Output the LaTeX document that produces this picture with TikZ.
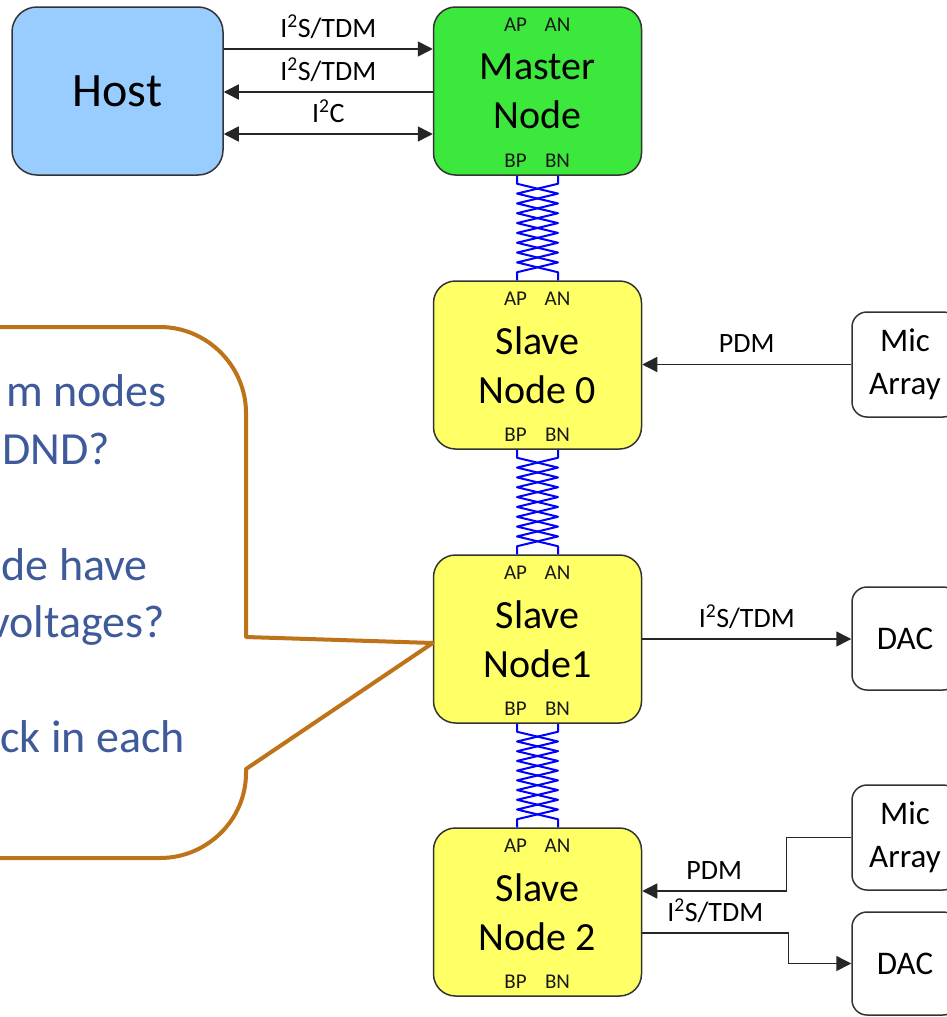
\documentclass[tikz,border=0pt]{standalone}
\usepackage{fontspec}
\setmainfont{Carlito}
\usetikzlibrary{arrows.meta,calc}

\definecolor{hostblue}{HTML}{99CCFF}
\definecolor{mastergreen}{HTML}{3DE83D}
\definecolor{slaveyellow}{HTML}{FFFF66}
\definecolor{edgegray}{HTML}{333333}
\definecolor{calloutbrown}{HTML}{BE7318}
\definecolor{questionblue}{HTML}{3F5A9B}

% "I squared" prefix of the bus names
\newcommand{\Isq}{I\textsuperscript{2}}

% one conductor of a twisted pair between two stacked nodes
% #1 upper node, #2 lower node, #3 starting side (-1 left, 1 right)
\newcommand{\twistwire}[3]{%
  \draw[wire] let \p1=(#1.south), \p2=(#2.north), \n1={(\y1-\y2-16pt)/9} in
    ({\x1+(#3)*20.5pt},\y1) -- ({\x1+(#3)*20.5pt},{\y1-8pt})
    foreach \k in {1,...,9} { -- ({\x1+(#3)*20.5pt*(1-2*mod(\k,2))},{\y1-8pt-\k*\n1}) }
    -- ({\x1-(#3)*20.5pt},\y2);
}
\newcommand{\twistpair}[2]{\twistwire{#1}{#2}{-1}\twistwire{#1}{#2}{1}}

% bus pin names printed inside a transceiver box
\newcommand{\buspins}[1]{%
  \node[pinlbl] (#1-ap) at ($(#1.north)+(-22,19)$) {AP};
  \node[pinlbl] (#1-an) at ($(#1.north)+(20,19)$) {AN};
  \node[pinlbl] (#1-bp) at ($(#1.south)+(-22,-15)$) {BP};
  \node[pinlbl] (#1-bn) at ($(#1.south)+(20,-15)$) {BN};
}

\begin{document}
\begin{tikzpicture}[x=1pt,y=-1pt,
  >={Triangle[length=15pt,width=15pt]},
  box/.style={draw=edgegray, line width=1.5pt, rounded corners=22pt,
    minimum width=208pt, minimum height=168pt, align=center, inner sep=0pt,
    font=\fontsize{40}{49}\selectfont},
  hostbox/.style={box, fill=hostblue, rounded corners=25pt, minimum width=211pt,
    font=\fontsize{48}{56}\selectfont},
  masterbox/.style={box, fill=mastergreen},
  slavebox/.style={box, fill=slaveyellow},
  dev/.style={draw=edgegray, line width=1.5pt, fill=white, rounded corners=15pt,
    minimum width=106pt, align=center, inner sep=0pt,
    font=\fontsize{33}{43}\selectfont},
  pinlbl/.style={inner sep=0pt, text=black!90, font=\fontsize{21}{21}\selectfont},
  sig/.style={anchor=base, yshift=12pt, inner sep=0pt, font=\fontsize{28}{28}\selectfont},
  link/.style={draw=black!85, line width=1.5pt},
  arr/.style={link, ->},
  biarr/.style={link, <->},
  wire/.style={draw=blue, line width=2pt, line join=round},
  callout/.style={draw=calloutbrown, line width=4pt, line join=round},
  question/.style={anchor=base east, inner sep=0pt, text=questionblue,
    font=\fontsize{46}{58}\selectfont}]

\useasboundingbox (0,0) rectangle (947,1017);
\fill[white] (0,0) rectangle (947,1017);
\clip (0,0) rectangle (947,1017);

% host and the chain of transceivers
\node[hostbox]   (host)   at (117.5,91)  {Host};
\node[masterbox] (master) at (537.5,91)  {Master\\Node};
\node[slavebox]  (s0)     at (537.5,365) {Slave\\Node 0};
\node[slavebox]  (s1)     at (537.5,639) {Slave\\Node1};
\node[slavebox]  (s2)     at (537.5,912) {Slave\\Node 2};
\buspins{master}
\buspins{s0}
\buspins{s1}
\buspins{s2}

% peripherals
\node[dev, minimum height=105pt] (mic1) at (905,364.5) {Mic\\Array};
\node[dev, minimum height=103pt] (dac1) at (905,638.5) {DAC};
\node[dev, minimum height=105pt] (mic2) at (905,837.5) {Mic\\Array};
\node[dev, minimum height=103pt] (dac2) at (905,963.5) {DAC};

% twisted-pair bus segments
\twistpair{master}{s0}
\twistpair{s0}{s1}
\twistpair{s1}{s2}

% host interface
\draw[arr] ([yshift=42pt]host.east) -- ([yshift=42pt]master.west)
  node[sig, pos=.5] {\Isq S/TDM};
\draw[arr] ([yshift=-1pt]master.west) -- ([yshift=-1pt]host.east)
  node[sig, pos=.5] {\Isq S/TDM};
\draw[biarr] ([yshift=-43pt]host.east) -- ([yshift=-43pt]master.west)
  node[sig, pos=.5] {\Isq C};

% peripheral links
\draw[arr] (mic1.west) -- (mic1.west -| s0.east) node[sig, pos=.5] {PDM};
\draw[arr] (s1.east) -- (s1.east -| dac1.west) node[sig, pos=.5] {\Isq S/TDM};
\draw[arr] (mic2.west) -- ++(-65,0) |- ([yshift=21pt]s2.east)
  node[sig, pos=.75] {PDM};
\draw[arr] ([yshift=-21pt]s2.east) -- ++(146,0) node[sig, pos=.5] {\Isq S/TDM}
  |- (dac2.west);

% speech bubble pointing at Slave Node1
\coordinate (bubbletip) at ([yshift=-4pt]s1.west);
\draw[callout] (-20,327) -- (160,327) .. controls (207,327) and (246,366) .. (246,413)
  -- (246,637) -- (bubbletip) -- (246,769) -- (246,773)
  .. controls (246,820) and (207,858) .. (160,858) -- (-20,858);
\node[question] (q1) at (167,406) {m nodes};
\node[question] (q2) at (110,464) {DND?};
\node[question] (q3) at (148,580) {de have};
\node[question] (q4) at (165,637) {voltages?};
\node[question] (q5) at (185,752) {ck in each};

\end{tikzpicture}
\end{document}
